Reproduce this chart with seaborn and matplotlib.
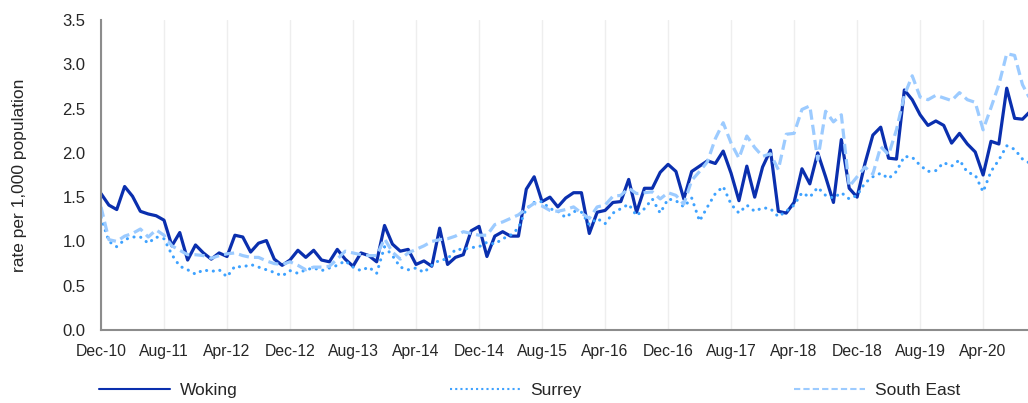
import matplotlib
matplotlib.use("Agg")
import matplotlib.pyplot as plt
from matplotlib.lines import Line2D
from matplotlib.ticker import FormatStrFormatter
import numpy as np
import pandas as pd
import seaborn as sns

# monthly rates, Dec-10 .. Oct-20
woking = [1.54, 1.41, 1.36, 1.62, 1.51, 1.34, 1.31, 1.29, 1.24, 0.95,
          1.10, 0.79, 0.96, 0.87, 0.80, 0.87, 0.83, 1.07, 1.05, 0.88,
          0.98, 1.01, 0.80, 0.73, 0.79, 0.90, 0.82, 0.90, 0.79, 0.77,
          0.91, 0.80, 0.72, 0.87, 0.84, 0.77, 1.18, 0.97, 0.89, 0.91,
          0.74, 0.78, 0.72, 1.15, 0.74, 0.82, 0.85, 1.12, 1.17, 0.83,
          1.06, 1.11, 1.06, 1.06, 1.59, 1.73, 1.45, 1.50, 1.39, 1.49,
          1.55, 1.55, 1.09, 1.33, 1.35, 1.44, 1.45, 1.70, 1.33, 1.60,
          1.60, 1.78, 1.87, 1.79, 1.48, 1.79, 1.85, 1.91, 1.88, 2.02,
          1.77, 1.46, 1.85, 1.50, 1.84, 2.03, 1.34, 1.32, 1.44, 1.82,
          1.65, 2.00, 1.73, 1.44, 2.15, 1.60, 1.50, 1.88, 2.20, 2.29,
          1.94, 1.93, 2.71, 2.60, 2.43, 2.31, 2.36, 2.31, 2.11, 2.22,
          2.10, 2.01, 1.75, 2.13, 2.10, 2.73, 2.39, 2.38, 2.47]

surrey = [1.27, 1.00, 0.94, 1.02, 1.05, 1.05, 0.98, 1.05, 1.03, 0.85,
          0.72, 0.68, 0.63, 0.68, 0.66, 0.68, 0.60, 0.72, 0.71, 0.74,
          0.71, 0.68, 0.65, 0.61, 0.67, 0.64, 0.68, 0.70, 0.67, 0.70,
          0.73, 0.78, 0.71, 0.67, 0.71, 0.64, 0.94, 0.84, 0.71, 0.68,
          0.70, 0.65, 0.73, 0.79, 0.80, 0.91, 0.91, 0.93, 0.94, 0.99,
          0.97, 1.03, 1.07, 1.15, 1.37, 1.44, 1.45, 1.37, 1.34, 1.27,
          1.34, 1.33, 1.19, 1.26, 1.20, 1.32, 1.37, 1.42, 1.29, 1.37,
          1.48, 1.32, 1.48, 1.46, 1.39, 1.49, 1.23, 1.39, 1.54, 1.62,
          1.42, 1.32, 1.41, 1.34, 1.38, 1.37, 1.28, 1.34, 1.41, 1.55,
          1.50, 1.61, 1.52, 1.49, 1.55, 1.48, 1.52, 1.66, 1.73, 1.77,
          1.71, 1.79, 1.96, 1.95, 1.86, 1.79, 1.80, 1.89, 1.85, 1.92,
          1.78, 1.75, 1.56, 1.79, 1.92, 2.08, 2.04, 1.93, 1.88]

south_east = [1.39, 1.02, 1.00, 1.06, 1.09, 1.14, 1.05, 1.13, 1.07, 0.95,
              0.90, 0.85, 0.85, 0.84, 0.81, 0.84, 0.86, 0.87, 0.84, 0.82,
              0.82, 0.78, 0.75, 0.74, 0.77, 0.73, 0.68, 0.71, 0.71, 0.72,
              0.80, 0.89, 0.87, 0.85, 0.84, 0.84, 1.03, 0.88, 0.80, 0.87,
              0.91, 0.95, 1.00, 1.02, 1.03, 1.06, 1.11, 1.09, 1.07, 1.07,
              1.19, 1.22, 1.26, 1.30, 1.37, 1.43, 1.40, 1.35, 1.34, 1.36,
              1.39, 1.32, 1.26, 1.39, 1.41, 1.51, 1.52, 1.60, 1.54, 1.55,
              1.56, 1.48, 1.55, 1.52, 1.42, 1.69, 1.79, 1.90, 2.16, 2.34,
              2.11, 1.94, 2.19, 2.06, 1.96, 1.99, 1.81, 2.21, 2.22, 2.49,
              2.53, 1.92, 2.47, 2.35, 2.43, 1.62, 1.73, 1.84, 1.76, 2.07,
              1.98, 2.26, 2.65, 2.87, 2.63, 2.60, 2.65, 2.62, 2.59, 2.68,
              2.60, 2.57, 2.26, 2.51, 2.77, 3.12, 3.10, 2.77, 2.60]

tick_labels = ["Dec-10", "Aug-11", "Apr-12", "Dec-12", "Aug-13", "Apr-14",
               "Dec-14", "Aug-15", "Apr-16", "Dec-16", "Aug-17", "Apr-18",
               "Dec-18", "Aug-19", "Apr-20"]

month = np.arange(len(woking))
df = pd.DataFrame({"month": month, "Woking": woking,
                   "Surrey": surrey, "South East": south_east})

sns.set_style("white")
plt.rcParams["font.family"] = ["Liberation Sans", "DejaVu Sans"]

fig = plt.figure(figsize=(10.28, 4.03), dpi=100)
ax = fig.add_axes([101 / 1028, 1 - 330 / 403, 1 - 101 / 1028, 310 / 403])

c_wok, c_sur, c_se = "#0a2fae", "#3ea2ff", "#9ccbff"

sns.lineplot(data=df, x="month", y="Woking", ax=ax, color=c_wok, lw=2.3)
sns.lineplot(data=df, x="month", y="Surrey", ax=ax, color=c_sur, lw=2.2)
ax.lines[-1].set_dashes((0.05, 2.2))
ax.lines[-1].set_dash_capstyle("round")
sns.lineplot(data=df, x="month", y="South East", ax=ax, color=c_se, lw=2.3)
ax.lines[-1].set_dashes((3.2, 1.6))

ax.set_xlim(0, 117.7)
ax.set_ylim(0, 3.5)
ax.set_yticks(np.arange(0, 3.51, 0.5))
ax.yaxis.set_major_formatter(FormatStrFormatter("%.1f"))
ax.set_xticks(np.arange(0, 8 * len(tick_labels), 8))
ax.set_xticklabels(tick_labels)
ax.set_xlabel("")
ax.set_ylabel("rate per 1,000 population", fontsize=12.5)
ax.yaxis.set_label_coords(-0.08, 0.5)

ax.grid(axis="x", color="#eeeeee", lw=1)
ax.grid(axis="y", visible=False)
for s in ["top", "right"]:
    ax.spines[s].set_visible(False)
for s in ["left", "bottom"]:
    ax.spines[s].set_color("#8c8c8c")
    ax.spines[s].set_linewidth(1.5)
ax.tick_params(axis="y", length=5, width=1.2, color="#8c8c8c",
               labelsize=12, pad=6)
ax.tick_params(axis="x", length=4, width=1.2, color="#8c8c8c",
               labelsize=11.3, pad=6)

handles = [
    Line2D([], [], color=c_wok, lw=1.5),
    Line2D([], [], color=c_sur, lw=1.5, linestyle=(0, (1, 1.5))),
    Line2D([], [], color=c_se, lw=1.5, linestyle=(0, (3, 1.5))),
]
fig.legend(handles, ["Woking", "Surrey", "South East"], ncol=3,
           loc="center", mode="expand",
           bbox_to_anchor=(99 / 1028, 1 - 398 / 403, 861 / 1028, 16 / 403),
           frameon=False, fontsize=12.5, handlelength=4.1,
           handletextpad=0.55, borderpad=0, borderaxespad=0)

fig.savefig("out.png", dpi=100)
